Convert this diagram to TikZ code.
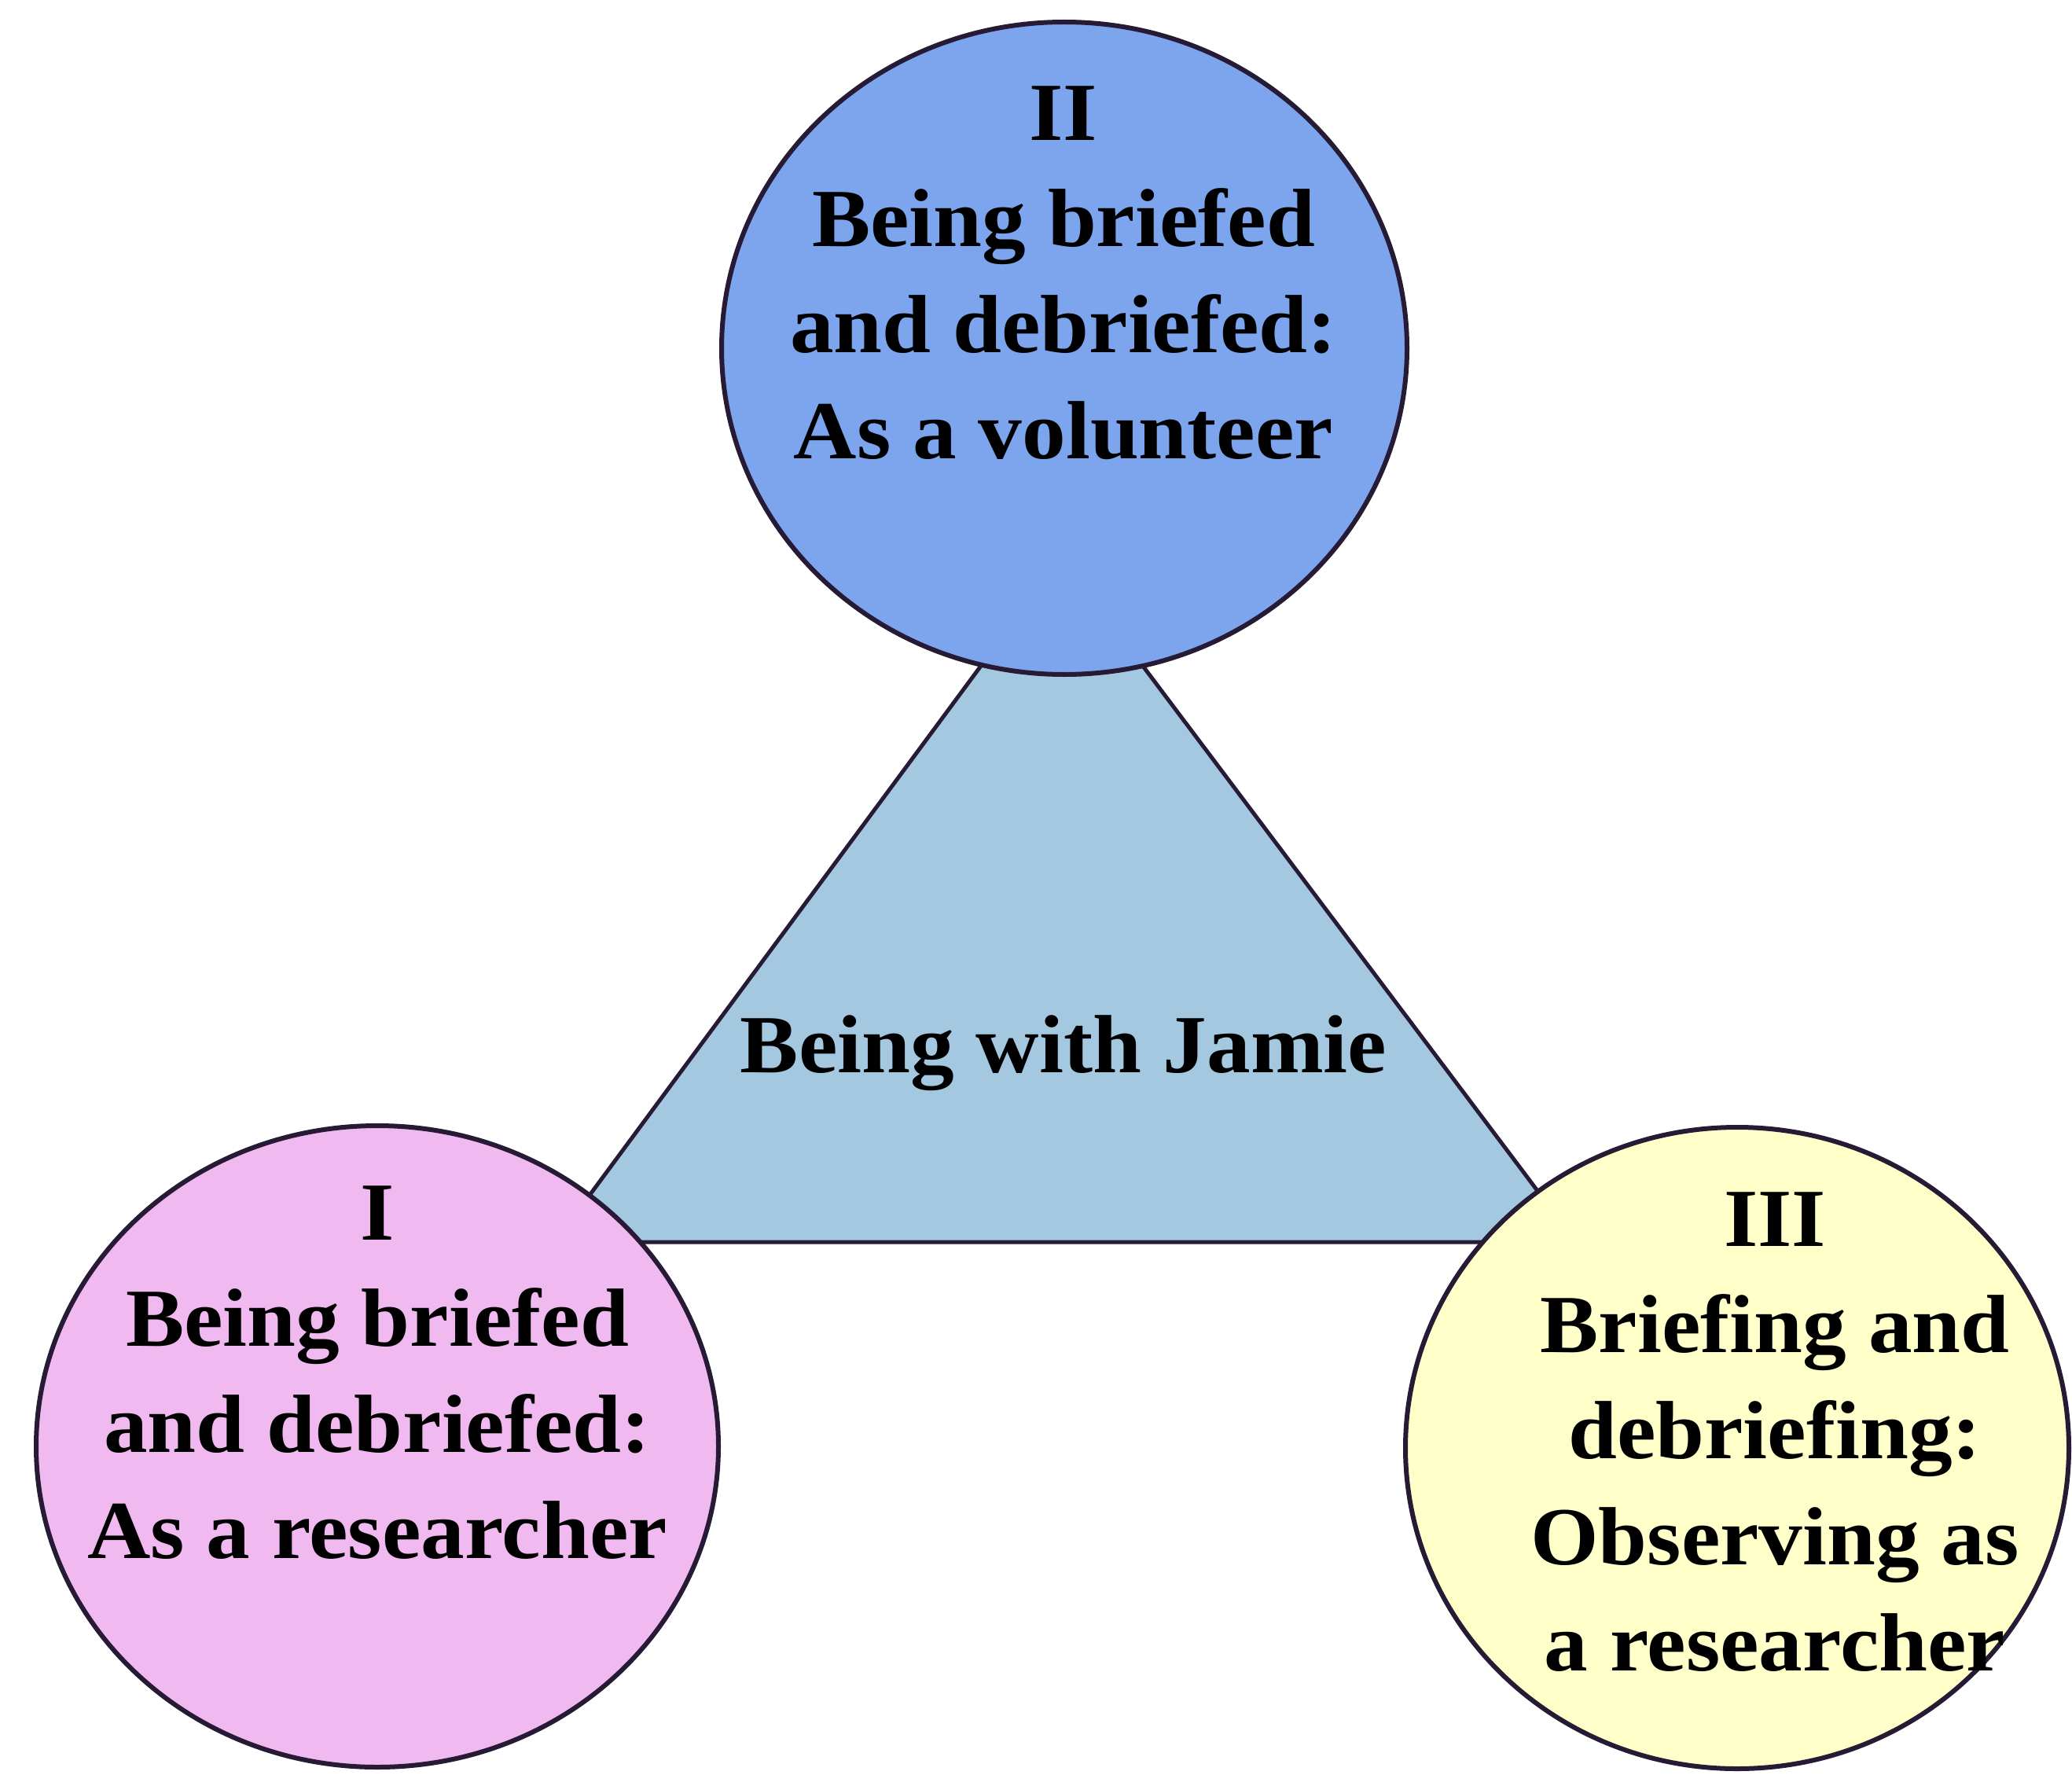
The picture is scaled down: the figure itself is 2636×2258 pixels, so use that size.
\documentclass[tikz,border=0pt]{standalone}
\usepackage{fontspec}
\setmainfont{Liberation Serif}[FakeStretch=1.06]
\usetikzlibrary{shapes.geometric}

\definecolor{edgeink}{RGB}{38,26,52}
\definecolor{volblue}{RGB}{124,165,238}
\definecolor{respink}{RGB}{240,186,240}
\definecolor{obsyellow}{RGB}{255,255,202}
\definecolor{jamieblue}{RGB}{164,200,224}

\tikzset{
  bubble/.style={ellipse, draw=edgeink, line width=6pt, inner sep=0pt},
  wedge/.style={draw=edgeink, line width=5pt, line join=miter, fill=jamieblue},
  % multi-line labels: the base anchor sits on the last line's baseline
  lbl/.style={anchor=base, align=center, inner sep=0pt, text=black,
              font=\fontsize{105}{135}\selectfont\bfseries},
}

\begin{document}
\begin{tikzpicture}[x=1pt, y=-1pt]
  \useasboundingbox (0,0) rectangle (2636,2258);
  \fill[white] (0,0) rectangle (2636,2258);

  % central triangle, drawn first so the circles cover its corners
  \coordinate (apex) at (1350,709);
  \coordinate (baseL) at (706,1580);
  \coordinate (baseR) at (2005,1580);
  \draw[wedge] (apex) -- (baseL) -- (baseR) -- cycle;
  \node[lbl] (jamie) at (1353,1364) {Being with Jamie};

  % the three stages
  \node[bubble, fill=volblue, minimum width=872pt, minimum height=830pt] (stageII) at (1354,443) {};
  \node[bubble, fill=respink, minimum width=868pt, minimum height=816pt] (stageI) at (480,1840) {};
  \node[bubble, fill=obsyellow, minimum width=844pt, minimum height=816pt] (stageIII) at (2210,1842) {};

  \node[lbl] (txtII) at (1353,583) {II\\Being briefed\\and debriefed:\\As a volunteer};
  \node[lbl] (txtI) at (480,1982) {I\\Being briefed\\and debriefed:\\As a researcher};
  \node[lbl] (txtIII) at (2258,2125) {III\\Briefing and\\debriefing:\\Observing as\\a researcher};
\end{tikzpicture}
\end{document}
